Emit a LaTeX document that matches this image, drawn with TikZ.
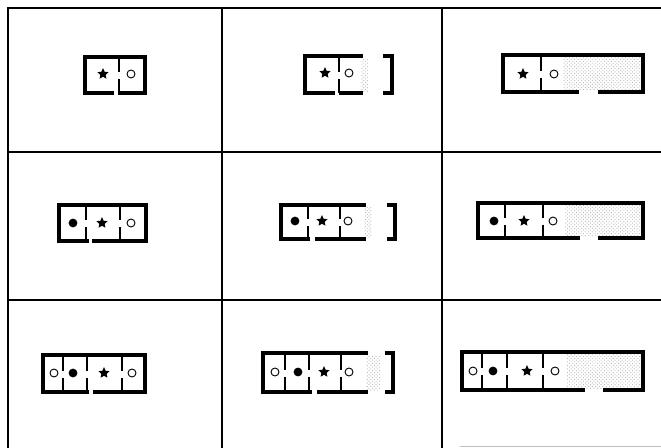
\documentclass[tikz,border=0pt]{standalone}
\usetikzlibrary{shapes.geometric,patterns}

\tikzset{
  grid/.style={line width=1.1pt},
  wall/.style={line width=3.6pt},
  divider/.style={line width=1.6pt},
  stipple/.style={pattern=crosshatch dots, pattern color=black!30},
  rat/.style={star, star points=5, star point ratio=2.1, fill, inner sep=0pt, minimum size=10pt},
  full/.style={circle, fill, inner sep=0pt, minimum size=7.5pt},
  empty/.style={circle, draw, line width=0.8pt, inner sep=0pt, minimum size=6.8pt},
}
% inner partition with a door in the middle: x, top, bottom
\newcommand{\partwall}[3]{%
  \draw[divider] (#1,#2) -- (#1,{(#2+#3)/2-3}) (#1,{(#2+#3)/2+4}) -- (#1,#3);}

\begin{document}
\begin{tikzpicture}[x=0.03cm, y=-0.03cm]
\useasboundingbox (0,0) rectangle (661,448);

% Grid
\draw[grid] (661,8) -- (8,8) -- (8,448);
\draw[grid] (222,8) -- (222,448);
\draw[grid] (442,8) -- (442,448);
\draw[grid] (8,152) -- (661,152);
\draw[grid] (8,300) -- (661,300);
\draw[black!25, line width=0.6pt] (460,446) -- (661,446);

% Row 1
\draw[wall] (114,93) -- (85,93) -- (85,57) -- (145,57) -- (145,93) -- (118,93);
\partwall{119}{57}{93}
\node[rat] (star11) at (103,74) {};
\node[empty] (ring11) at (131,74) {};

\fill[stipple] (361,58) rectangle (368,91);
\draw[wall] (335,93) -- (305,93) -- (305,56) -- (363,56);
\draw[wall] (339,93) -- (363,93);
\partwall{339}{56}{93}
\draw[wall] (383,56) -- (392,56) -- (392,93) -- (383,93);
\node[rat] (star12) at (325,73) {};
\node[empty] (ring12) at (349,73) {};

\fill[stipple] (563,57) rectangle (641,90);
\draw[wall] (579,92) -- (503,92) -- (503,55) -- (643,55) -- (643,92) -- (598,92);
\partwall{541}{55}{92}
\node[rat] (star13) at (523,74) {};
\node[empty] (ring13) at (554,74) {};

% Row 2
\draw[wall] (89,241) -- (59,241) -- (59,205) -- (146,205) -- (146,241) -- (92,241);
\partwall{86}{205}{241}
\partwall{120}{205}{241}
\node[full] (dot21) at (73,223) {};
\node[rat] (star21) at (102,223) {};
\node[empty] (ring21) at (131,223) {};

\fill[stipple] (364,207) rectangle (371,237);
\draw[wall] (310,239) -- (281,239) -- (281,205) -- (366,205);
\draw[wall] (315,239) -- (366,239);
\partwall{308}{205}{239}
\partwall{340}{205}{239}
\draw[wall] (387,205) -- (395,205) -- (395,239) -- (387,239);
\node[full] (dot22) at (295,221) {};
\node[rat] (star22) at (322,221) {};
\node[empty] (ring22) at (348,221) {};

\fill[stipple] (565,205) rectangle (641,236);
\draw[wall] (580,238) -- (478,238) -- (478,203) -- (643,203) -- (643,238) -- (598,238);
\partwall{505}{203}{238}
\partwall{543}{203}{238}
\node[full] (dot23) at (494,221) {};
\node[rat] (star23) at (524,221) {};
\node[empty] (ring23) at (553,221) {};

% Row 3
\draw[wall] (89,392) -- (43,392) -- (43,355) -- (145,355) -- (145,392) -- (93,392);
\partwall{63}{355}{392}
\partwall{87}{355}{392}
\partwall{122}{355}{392}
\node[empty] (ring31) at (54,373) {};
\node[full] (dot31) at (73,373) {};
\node[rat] (star31) at (104,373) {};
\node[empty] (ringb31) at (132,373) {};

\fill[stipple] (366,355) rectangle (380,390);
\draw[wall] (312,392) -- (263,392) -- (263,353) -- (368,353);
\draw[wall] (317,392) -- (368,392);
\partwall{285}{353}{392}
\partwall{309}{353}{392}
\partwall{341}{353}{392}
\draw[wall] (385,353) -- (393,353) -- (393,392) -- (385,392);
\node[empty] (ring32) at (275,372) {};
\node[full] (dot32) at (298,372) {};
\node[rat] (star32) at (324,372) {};
\node[empty] (ringb32) at (349,372) {};

\fill[stipple] (567,354) rectangle (641,388);
\draw[wall] (585,390) -- (462,390) -- (462,352) -- (643,352) -- (643,390) -- (603,390);
\partwall{482}{352}{390}
\partwall{507}{352}{390}
\partwall{543}{352}{390}
\node[empty] (ring33) at (473,371) {};
\node[full] (dot33) at (493,371) {};
\node[rat] (star33) at (527,371) {};
\node[empty] (ringb33) at (555,371) {};
\end{tikzpicture}
\end{document}
